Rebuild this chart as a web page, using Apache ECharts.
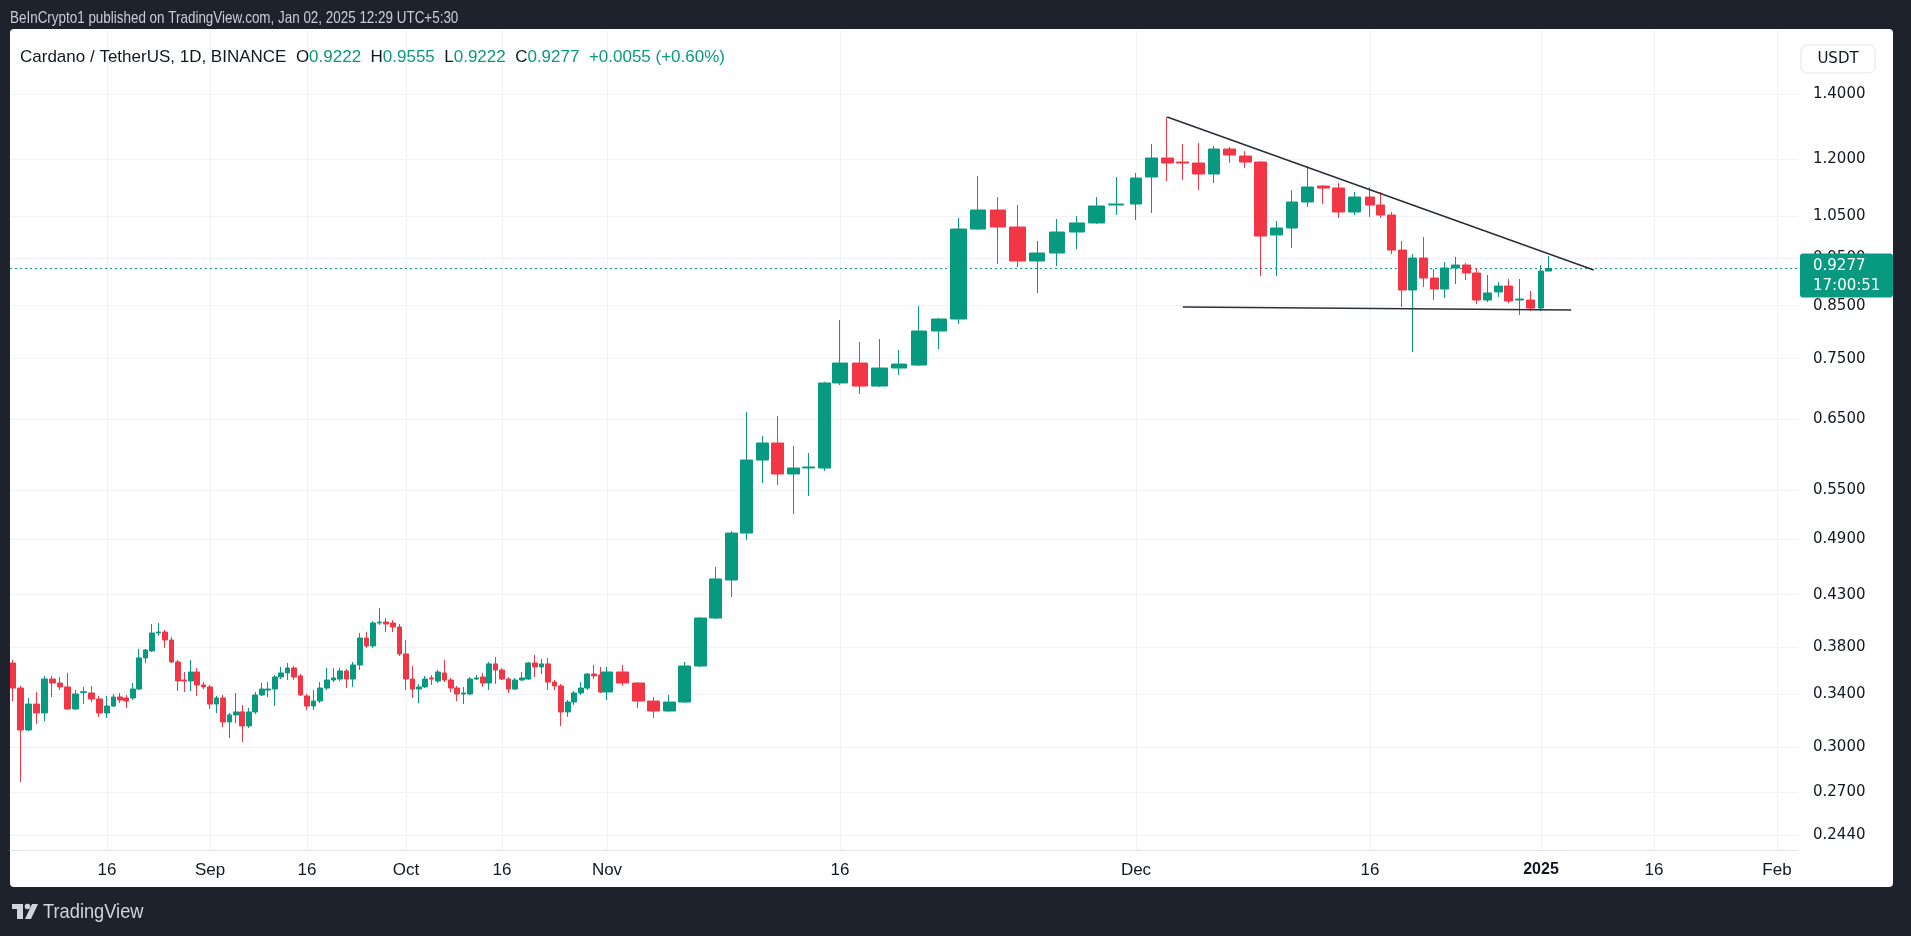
<!DOCTYPE html>
<html>
<head>
<meta charset="utf-8">
<script src="https://cdn.jsdelivr.net/npm/echarts@6/dist/echarts.min.js"></script>
<style>
html,body{margin:0;padding:0;background:#1e222d;width:1911px;height:936px;overflow:hidden}
#panel{position:absolute;left:10px;top:29px;width:1883px;height:858px;background:#ffffff;border-radius:4px}
#chart{position:absolute;left:0;top:0;width:1911px;height:936px}
</style>
</head>
<body>
<div id="panel"></div>
<div id="chart"></div>
<script>
// ---------------- DATA ----------------
const firstDate = '2024-08-04'; // first daily candle, one candle per calendar day
const open = [
  0.3660,0.3450,0.3125,0.3322,0.3253,0.3524,0.3491,0.3459,0.3284,0.3414,0.3410,0.3362,0.3253,0.3307,0.3378,0.3370,0.3370,0.3442,0.3704,0.3765,0.3928,0.3937,0.3864,0.3669,0.3516,0.3508,0.3583,0.3475,
  0.3459,0.3322,0.3370,0.3185,0.3238,0.3261,0.3155,0.3261,0.3394,0.3434,0.3442,0.3541,0.3575,0.3617,0.3550,0.3386,0.3307,0.3346,0.3450,0.3516,0.3524,0.3592,0.3524,0.3643,0.3882,0.3810,0.4022,0.4031,0.4022,0.3984,
  0.3739,0.3524,0.3442,0.3459,0.3533,0.3508,0.3575,0.3516,0.3450,0.3402,0.3402,0.3524,0.3541,0.3491,0.3652,0.3600,0.3524,0.3442,0.3516,0.3524,0.3660,0.3626,0.3652,0.3499,0.3467,0.3261,0.3338,0.3410,0.3450,0.3566,0.3558,
  0.3418,0.3583,0.3491,0.3346,0.3268,0.3338,0.3634,0.4069,0.4451,0.4972,0.5906,0.6148,0.5715,0.5796,0.5796,0.7083,0.7424,0.7032,0.7337,0.7389,0.8006,0.8236,1.0183,1.0650,1.0231,0.9443,0.9623,1.0111,1.0329,1.0776,
  1.0801,1.1511,1.2039,1.1926,1.1898,1.1593,1.2297,1.2095,1.1925,1.0040,1.0207,1.0853,1.1269,1.1216,1.0600,1.0981,1.0776,1.0525,0.9691,0.8819,0.9510,0.9072,0.8840,0.9289,0.9354,0.9180,0.8613,0.8778,0.8902,0.8613,0.8613,
  0.8452,0.9222
];
const high = [
  0.3686,0.3467,0.3370,0.3418,0.3550,0.3550,0.3541,0.3575,0.3434,0.3459,0.3467,0.3386,0.3386,0.3402,0.3410,0.3394,0.3491,0.3783,0.3783,0.4012,0.4022,0.3956,0.3892,0.3686,0.3583,0.3686,0.3617,0.3499,
  0.3475,0.3386,0.3394,0.3253,0.3410,0.3315,0.3291,0.3418,0.3491,0.3499,0.3558,0.3626,0.3660,0.3634,0.3566,0.3402,0.3434,0.3499,0.3617,0.3617,0.3617,0.3609,0.3669,0.3928,0.3937,0.4040,0.4167,0.4069,0.4050,0.4012,
  0.3864,0.3634,0.3483,0.3550,0.3558,0.3600,0.3686,0.3533,0.3467,0.3459,0.3541,0.3558,0.3575,0.3669,0.3712,0.3617,0.3541,0.3533,0.3583,0.3669,0.3730,0.3695,0.3704,0.3516,0.3483,0.3354,0.3426,0.3499,0.3575,0.3643,0.3626,
  0.3626,0.3643,0.3499,0.3378,0.3394,0.3669,0.4079,0.4589,0.4996,0.6615,0.6250,0.6553,0.6105,0.6005,0.7100,0.8217,0.7801,0.7856,0.7655,0.8492,0.8256,1.0451,1.1539,1.0981,1.0776,0.9899,1.0427,1.0500,1.0981,1.1511,
  1.1621,1.2443,1.3261,1.2443,1.2473,1.2385,1.2356,1.2239,1.1954,1.0378,1.1164,1.1814,1.1296,1.1349,1.1111,1.1243,1.1111,1.0600,0.9899,0.9601,0.9992,0.9267,0.9420,0.9533,0.9398,0.9289,0.9136,0.8986,0.9050,0.9050,0.8798,
  0.9354,0.9555
];
const low = [
  0.3346,0.2764,0.3118,0.3170,0.3192,0.3378,0.3434,0.3276,0.3276,0.3322,0.3338,0.3223,0.3215,0.3299,0.3330,0.3291,0.3354,0.3434,0.3660,0.3756,0.3901,0.3792,0.3660,0.3426,0.3418,0.3426,0.3386,0.3442,
  0.3284,0.3253,0.3147,0.3066,0.3177,0.3038,0.3140,0.3245,0.3386,0.3378,0.3307,0.3524,0.3516,0.3516,0.3386,0.3276,0.3276,0.3330,0.3434,0.3499,0.3508,0.3450,0.3459,0.3600,0.3792,0.3792,0.4003,0.3937,0.3937,0.3721,
  0.3434,0.3370,0.3330,0.3450,0.3475,0.3491,0.3499,0.3418,0.3346,0.3322,0.3394,0.3516,0.3459,0.3434,0.3483,0.3516,0.3410,0.3434,0.3508,0.3516,0.3541,0.3566,0.3434,0.3434,0.3155,0.3223,0.3315,0.3394,0.3434,0.3524,0.3410,
  0.3354,0.3467,0.3291,0.3215,0.3261,0.3330,0.3626,0.4060,0.4276,0.4891,0.5595,0.5568,0.5201,0.5426,0.5756,0.7049,0.6901,0.7016,0.7217,0.7372,0.7673,0.8139,1.0159,0.9376,0.9310,0.8757,0.9332,0.9714,1.0304,1.0525,
  1.0402,1.0575,1.1403,1.1430,1.1164,1.1349,1.1898,1.1758,0.9114,0.9114,0.9737,1.0725,1.0801,1.0451,1.0525,1.0475,1.0451,0.9601,0.8472,0.7619,0.8881,0.8613,0.8654,0.8944,0.9029,0.8532,0.8573,0.8675,0.8552,0.8314,0.8393,
  0.8393,0.9222
];
const close = [
  0.3450,0.3125,0.3322,0.3253,0.3524,0.3491,0.3459,0.3284,0.3402,0.3420,0.3362,0.3253,0.3307,0.3378,0.3354,0.3346,0.3442,0.3704,0.3774,0.3928,0.3937,0.3864,0.3669,0.3508,0.3508,0.3583,0.3475,0.3459,
  0.3322,0.3370,0.3185,0.3238,0.3261,0.3155,0.3261,0.3394,0.3442,0.3442,0.3541,0.3575,0.3617,0.3541,0.3394,0.3307,0.3346,0.3450,0.3516,0.3533,0.3592,0.3524,0.3643,0.3882,0.3810,0.4022,0.4031,0.4012,0.3984,0.3739,
  0.3524,0.3442,0.3459,0.3524,0.3524,0.3583,0.3516,0.3450,0.3402,0.3410,0.3524,0.3533,0.3491,0.3652,0.3600,0.3524,0.3442,0.3516,0.3533,0.3660,0.3626,0.3652,0.3499,0.3467,0.3261,0.3338,0.3410,0.3450,0.3566,0.3550,0.3418,
  0.3583,0.3491,0.3346,0.3268,0.3338,0.3634,0.4069,0.4462,0.4972,0.5906,0.6148,0.5715,0.5796,0.5810,0.7083,0.7424,0.7032,0.7337,0.7406,0.8006,0.8236,1.0183,1.0650,1.0231,0.9443,0.9623,1.0111,1.0329,1.0751,1.0801,
  1.1484,1.2039,1.1898,1.1898,1.1593,1.2297,1.2124,1.1925,1.0016,1.0207,1.0853,1.1243,1.1216,1.0600,1.0981,1.0776,1.0525,0.9691,0.8819,0.9510,0.9072,0.8840,0.9289,0.9354,0.9180,0.8613,0.8757,0.8902,0.8593,0.8633,0.8452,
  0.9222,0.9277
];
const tickDates  = ['2024-08-16','2024-09-01','2024-09-16','2024-10-01','2024-10-16','2024-11-01','2024-11-16','2024-12-01','2024-12-16','2025-01-01','2025-01-16','2025-02-01'];
const tickLabels = ['16','Sep','16','Oct','16','Nov','16','Dec','16','2025','16','Feb'];
const priceTicks = [0.244,0.27,0.30,0.34,0.38,0.43,0.49,0.55,0.65,0.75,0.85,0.95,1.05,1.20,1.40];
const upperTrend = [['2024-12-03',1.3261],['2025-01-08',0.9245]];
const lowerTrend = [['2024-12-04',0.8472],['2025-01-05',0.8413]];
const lastBar = {o:0.9222,h:0.9555,l:0.9222,c:0.9277,chg:0.0055,pct:0.60};
const countdown = '17:00:51';
const publishedText = 'BeInCrypto1 published on TradingView.com, Jan 02, 2025 12:29 UTC+5:30';
const symbolText = 'Cardano / TetherUS, 1D, BINANCE';

// ---------------- LAYOUT ----------------
const PANE = {left:10, right:1798, top:30, bottom:850};
const firstX = 13;   // pixel centre of the first day
const tickX = [107,210,307,406,502,607,840,1136,1370,1541,1654,1777]; // pixel centres of labelled days (axis layout)
const Y_MIN = 0.23548, Y_MAX = 1.6281;
const GREEN = '#089981', RED = '#f23645', GRIDC = '#f0f2f5', TXT = '#131722';
const SANS = "'Liberation Sans',Arial,sans-serif";
const WIDE = "'DejaVu Sans',sans-serif";

const DAY = 86400000;
const t0 = Date.parse(firstDate + 'T00:00:00Z');
const dayIdx = d => Math.round((Date.parse(d + 'T00:00:00Z') - t0) / DAY);
const dayStr = i => new Date(t0 + i * DAY).toISOString().slice(0, 10);

// piecewise axis segments between labelled days
const anchors = [{i:0, x:firstX, label:null}].concat(tickDates.map((d,k)=>({i:dayIdx(d), x:tickX[k], label:tickLabels[k]})));
const segs = [];
for (let k = 0; k < anchors.length; k++) {
  const a = anchors[k];
  let n, w;
  if (k < anchors.length - 1) { const b = anchors[k+1]; n = b.i - a.i; w = (b.x - a.x) / n; }
  else { w = segs[k-1].w; n = Math.max(1, Math.round((PANE.right - (a.x - w/2)) / w)); }
  segs.push({start:a.i, n:n, w:w, left:a.x - w/2, label:a.label});
}

const grids = [{left:PANE.left, top:PANE.top, width:PANE.right-PANE.left, height:PANE.bottom-PANE.top}];
const xAxes = [{type:'value', gridIndex:0, min:0, max:1, axisLine:{show:true, lineStyle:{color:'#e0e3eb'}}, axisTick:{show:false}, axisLabel:{show:false}, splitLine:{show:false}}];
const yAxes = [{
  type:'log', gridIndex:0, position:'right', min:Y_MIN, max:Y_MAX,
  axisLine:{show:false},
  axisTick:{show:false, customValues:priceTicks},
  axisLabel:{customValues:priceTicks, formatter:v=>Number(v).toFixed(4), color:TXT, fontSize:15, fontFamily:WIDE, margin:15},
  splitLine:{show:true, lineStyle:{color:GRIDC, width:1}}
}];
const series = [];

segs.forEach((s, k) => {
  const g = k + 1;
  const cats = [], data = [];
  for (let j = 0; j < s.n; j++) {
    const di = s.start + j;
    cats.push(dayStr(di));
    if (di < open.length) data.push([open[di], close[di], low[di], high[di]]);
  }
  grids.push({left:s.left, top:PANE.top, width:s.n*s.w, height:PANE.bottom-PANE.top});
  xAxes.push({
    type:'category', gridIndex:g, data:cats, boundaryGap:true,
    axisLine:{show:false},
    axisTick:{show:!!s.label, inside:true, length:PANE.bottom-PANE.top, alignWithLabel:true, interval:(idx)=>idx===0, lineStyle:{color:GRIDC, width:1}},
    axisLabel:{show:!!s.label, interval:(idx)=>idx===0, margin:12, color:TXT, fontSize:17, fontFamily:SANS,
      formatter:()=> s.label === '2025' ? '{b|2025}' : s.label,
      rich:{b:{fontWeight:'bold', fontSize:16, fontFamily:SANS, color:TXT}}},
    splitLine:{show:false}
  });
  yAxes.push({type:'log', gridIndex:g, min:Y_MIN, max:Y_MAX, show:false});
  if (data.length) series.push({
    type:'candlestick', xAxisIndex:g, yAxisIndex:g, data:data, barWidth:'80%',
    itemStyle:{color:GREEN, color0:RED, borderColor:GREEN, borderColor0:RED, borderWidth:1}
  });
});

const f4 = v => v.toFixed(4);
const chart = echarts.init(document.getElementById('chart'), null, {renderer:'canvas'});
chart.setOption({
  animation:false,
  backgroundColor:'transparent',
  title:[
    {text:'{n|'+symbolText+'}  {n|O}{g|'+f4(lastBar.o)+'}  {n|H}{g|'+f4(lastBar.h)+'}  {n|L}{g|'+f4(lastBar.l)+'}  {n|C}{g|'+f4(lastBar.c)+'}  {g|+'+f4(lastBar.chg)+' (+'+lastBar.pct.toFixed(2)+'%)}',
     left:20, top:49, padding:0,
     textStyle:{fontSize:17, fontWeight:'normal', fontFamily:SANS,
       rich:{n:{color:TXT, fontSize:17, fontFamily:SANS}, g:{color:GREEN, fontSize:17, fontFamily:SANS}}}}
  ],
  grid:grids, xAxis:xAxes, yAxis:yAxes, series:series
});

// overlays positioned through the axes
function segOf(date){ const di = dayIdx(date); return segs.findIndex(s => di >= s.start && di < s.start + s.n); }
function px(date, value){
  const k = segOf(date);
  return [chart.convertToPixel({xAxisIndex:k+1}, date), chart.convertToPixel({yAxisIndex:0}, value)];
}
const u1 = px(upperTrend[0][0], upperTrend[0][1]), u2 = px(upperTrend[1][0], upperTrend[1][1]);
const l1 = px(lowerTrend[0][0], lowerTrend[0][1]), l2 = px(lowerTrend[1][0], lowerTrend[1][1]);
const py = chart.convertToPixel({yAxisIndex:0}, lastBar.c);

chart.setOption({
  graphic:[
    {type:'text', z:31, silent:true, x:10, y:18, scaleX:0.79, style:{text:publishedText, fill:'#c9ccd3', font:'17px '+SANS, verticalAlign:'middle'}},
    {type:'line', z:1, silent:true, shape:{x1:PANE.left, y1:py, x2:PANE.right, y2:py}, style:{stroke:GREEN, lineWidth:1, lineDash:[2,3]}},
    {type:'line', z:20, silent:true, shape:{x1:u1[0], y1:u1[1], x2:u2[0], y2:u2[1]}, style:{stroke:'#2a2e39', lineWidth:1.6}},
    {type:'line', z:20, silent:true, shape:{x1:l1[0], y1:l1[1], x2:l2[0], y2:l2[1]}, style:{stroke:'#2a2e39', lineWidth:1.6}},
    {type:'rect', z:30, silent:true, shape:{x:1800, y:py-15, width:93, height:44, r:3}, style:{fill:GREEN}},
    {type:'text', z:31, silent:true, x:1813, y:py-2, style:{text:f4(lastBar.c), fill:'#ffffff', font:'15px '+WIDE, verticalAlign:'middle'}},
    {type:'text', z:31, silent:true, x:1813, y:py+18, style:{text:countdown, fill:'#ffffff', font:'15px '+WIDE, verticalAlign:'middle'}},
    {type:'rect', z:30, silent:true, shape:{x:1801, y:45, width:74, height:28, r:6}, style:{fill:'#ffffff', stroke:'#e0e3eb', lineWidth:1}},
    {type:'text', z:31, silent:true, x:1838, y:59, style:{text:'USDT', fill:TXT, font:'15px '+WIDE, align:'center', verticalAlign:'middle'}},
    // TradingView logo mark + word
    {type:'rect', z:31, silent:true, shape:{x:12, y:904, width:11, height:5}, style:{fill:'#d1d4dc'}},
    {type:'rect', z:31, silent:true, shape:{x:17, y:904, width:6, height:15}, style:{fill:'#d1d4dc'}},
    {type:'circle', z:31, silent:true, shape:{cx:27.5, cy:906.5, r:2.8}, style:{fill:'#d1d4dc'}},
    {type:'polygon', z:31, silent:true, shape:{points:[[32,904],[38,904],[31,919],[25,919]]}, style:{fill:'#d1d4dc'}},
    {type:'text', z:31, silent:true, x:43, y:912, scaleX:0.87, style:{text:'TradingView', fill:'#d1d4dc', font:'21px '+SANS, verticalAlign:'middle'}}
  ]
});
</script>
</body>
</html>
